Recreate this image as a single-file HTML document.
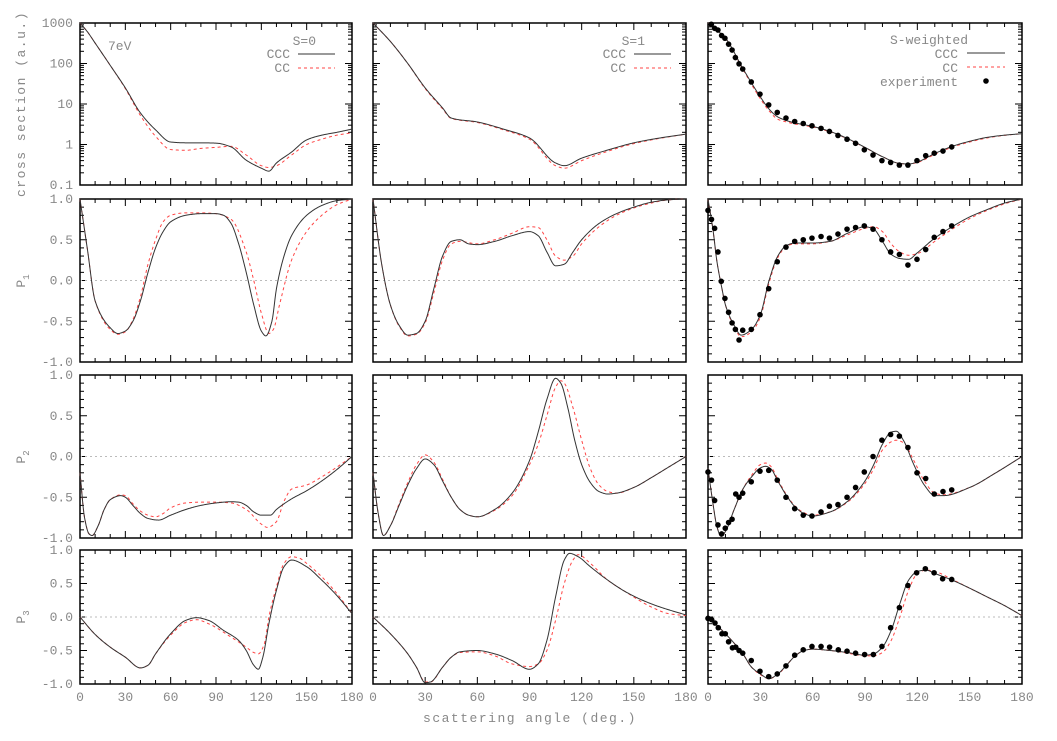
<!DOCTYPE html>
<html><head><meta charset="utf-8">
<style>
html,body{margin:0;padding:0;background:#fff;}
svg{display:block;font-family:"Liberation Mono",monospace;}
text{fill:#888;font-size:13px;}
</style></head>
<body>
<svg id="chart" width="1057" height="741" viewBox="0 0 1057 741" xmlns="http://www.w3.org/2000/svg">
<g id="panels"></g>
<text x="25" y="104" text-anchor="middle" transform="rotate(-90 25 104)" style="letter-spacing:1.5px">cross section (a.u.)</text>
<text x="25" y="281" text-anchor="middle" transform="rotate(-90 25 281)">P<tspan font-size="9" dy="4">1</tspan></text>
<text x="25" y="457" text-anchor="middle" transform="rotate(-90 25 457)">P<tspan font-size="9" dy="4">2</tspan></text>
<text x="25" y="617" text-anchor="middle" transform="rotate(-90 25 617)">P<tspan font-size="9" dy="4">3</tspan></text>
<text x="530" y="722" text-anchor="middle" style="letter-spacing:1.5px">scattering angle (deg.)</text>
<text x="108" y="50">7eV</text>
</svg>
<script>
// ---- data (angle arrays + values) ----
const xTicks=[0,30,60,90,120,150,180];
const logTickLabels=["1000","100","10","1","0.1"];
const pTickLabels=["1.0","0.5","0.0","-0.5","-1.0"];
const pTickValues=[1,0.5,0,-0.5,-1];

const csS0CccA=[0,5,10,20,30,40,50,60,70,80,90,100,110,120,125,130,140,150,160,170,180];
const csS0CccV=[1000,600,320,90,25,6,2.3,1.15,1.1,1.1,1.08,0.87,0.41,0.26,0.22,0.35,0.65,1.3,1.7,2.0,2.4];
const csS0CcA=[0,5,10,20,30,40,50,60,70,80,90,100,110,120,125,130,140,150,160,170,180];
const csS0CcV=[1000,600,320,90,24,5.2,1.6,0.75,0.72,0.8,0.85,0.9,0.55,0.3,0.27,0.3,0.55,1.0,1.35,1.7,1.95];
const csS1CccA=[0,10,20,30,40,45,60,75,90,105,110,120,135,150,165,180];
const csS1CccV=[1000,350,100,25,8,4.5,3.6,2.4,1.45,0.35,0.3,0.46,0.73,1.1,1.45,1.8];
const csS1CcA=[0,10,20,30,40,45,60,75,90,105,110,120,135,150,165,180];
const csS1CcV=[1000,350,100,24,7.6,4.4,3.5,2.3,1.35,0.3,0.26,0.4,0.68,1.05,1.42,1.8];
const csSwCccA=[0,10,20,30,35,40,45,50,60,70,80,90,100,110,115,120,130,140,150,160,170,180];
const csSwCccV=[1000,420,75,15,7.5,4.8,3.9,3.4,2.8,2.1,1.4,0.85,0.5,0.34,0.33,0.37,0.6,0.9,1.2,1.5,1.7,1.85];
const csSwCcA=[0,10,20,30,35,40,45,50,60,70,80,90,100,110,115,120,130,140,150,160,170,180];
const csSwCcV=[1000,420,72,13.5,6.8,4.2,3.6,3.2,2.7,2.05,1.38,0.84,0.5,0.34,0.33,0.36,0.57,0.86,1.15,1.45,1.68,1.85];
const csExpA=[1.9,3.8,5.7,7.8,9.7,11.8,13.8,15.7,17.8,19.9,24.8,29.8,34.8,39.7,44.7,49.7,54.6,59.6,64.8,69.6,74.5,79.7,84.6,89.6,94.6,99.7,104.7,109.7,114.6,119.8,124.8,129.7,134.7,139.7];
const csExpV=[930,740,670,490,420,300,215,140,98,73,35,17.5,9.5,6.2,4.5,3.7,3.3,2.9,2.5,2.1,1.67,1.35,1.07,0.74,0.55,0.40,0.36,0.31,0.31,0.40,0.53,0.61,0.69,0.87];

const p1S0CccA=[0,5,10,20,25,30,35,40,45,50,55,60,70,80,90,95,100,105,110,115,120,123,127,130,135,140,150,160,170,180];
const p1S0CccV=[1.0,0.37,-0.25,-0.58,-0.65,-0.62,-0.5,-0.25,0.1,0.4,0.6,0.72,0.8,0.82,0.82,0.8,0.7,0.45,0.1,-0.3,-0.62,-0.68,-0.5,-0.1,0.3,0.55,0.8,0.92,0.98,1.0];
const p1S0CcA=[0,5,10,20,25,30,35,40,45,50,55,60,70,80,90,100,110,115,120,125,128,132,140,150,160,170,180];
const p1S0CcV=[1.0,0.37,-0.25,-0.6,-0.66,-0.63,-0.48,-0.2,0.2,0.5,0.72,0.8,0.83,0.83,0.82,0.75,0.35,0.0,-0.4,-0.65,-0.6,-0.3,0.25,0.6,0.8,0.93,1.0];
const p1S1CccA=[0,5,10,15,20,25,30,35,40,45,50,55,60,70,80,90,95,100,105,110,115,120,130,140,150,160,170,180];
const p1S1CccV=[1.0,0.2,-0.3,-0.55,-0.67,-0.65,-0.5,-0.1,0.3,0.48,0.5,0.45,0.44,0.48,0.55,0.6,0.55,0.35,0.18,0.2,0.35,0.5,0.7,0.82,0.9,0.96,0.99,1.0];
const p1S1CcA=[0,5,10,15,20,25,30,35,40,45,50,60,70,80,90,95,100,105,110,115,120,130,140,150,160,170,180];
const p1S1CcV=[1.0,0.2,-0.3,-0.56,-0.68,-0.66,-0.52,-0.15,0.25,0.45,0.48,0.45,0.5,0.58,0.66,0.65,0.5,0.3,0.25,0.3,0.45,0.66,0.8,0.89,0.95,0.99,1.0];
const p1SwCccA=[0,3,5,8,10,15,19,25,30,35,40,45,50,60,70,80,90,95,100,105,110,115,120,130,140,150,160,170,180];
const p1SwCccV=[1.0,0.6,0.25,-0.1,-0.3,-0.55,-0.67,-0.6,-0.42,0.0,0.3,0.43,0.46,0.46,0.48,0.58,0.66,0.63,0.48,0.32,0.27,0.26,0.34,0.52,0.66,0.78,0.87,0.95,1.0];
const p1SwCcA=[0,3,5,8,10,15,19,25,30,35,40,45,50,60,70,80,90,95,100,105,110,115,120,130,140,150,160,170,180];
const p1SwCcV=[1.0,0.6,0.25,-0.1,-0.3,-0.57,-0.69,-0.63,-0.45,-0.03,0.28,0.42,0.45,0.45,0.48,0.56,0.64,0.66,0.6,0.45,0.35,0.31,0.33,0.48,0.63,0.76,0.86,0.94,1.0];
const p1ExpA=[0,2,3.8,5.7,7.6,9.7,11.8,13.8,15.7,17.8,19.9,24.8,29.8,34.8,39.7,44.7,49.7,54.6,59.6,64.8,69.6,74.5,79.7,84.6,89.6,94.6,99.7,104.7,109.7,114.6,119.8,124.8,129.7,134.7,139.7];
const p1ExpV=[0.86,0.75,0.64,0.35,-0.01,-0.22,-0.39,-0.52,-0.6,-0.73,-0.61,-0.6,-0.42,-0.1,0.23,0.41,0.48,0.5,0.52,0.54,0.52,0.57,0.63,0.65,0.67,0.63,0.5,0.35,0.32,0.19,0.26,0.38,0.53,0.6,0.67];

const p2S0CccA=[0,3,6,8,12,16,20,27,30,35,40,45,52,60,70,80,90,100,105,110,115,120,126,130,140,150,160,170,180];
const p2S0CccV=[-0.2,-0.75,-0.95,-0.97,-0.85,-0.65,-0.53,-0.48,-0.5,-0.6,-0.7,-0.76,-0.78,-0.72,-0.65,-0.6,-0.57,-0.555,-0.56,-0.6,-0.68,-0.72,-0.72,-0.65,-0.52,-0.42,-0.3,-0.16,0.0];
const p2S0CcA=[0,3,6,8,12,16,20,27,30,35,40,45,50,55,60,70,80,90,100,110,120,124,130,135,140,150,160,170,180];
const p2S0CcV=[-0.2,-0.75,-0.95,-0.97,-0.85,-0.65,-0.53,-0.47,-0.48,-0.58,-0.67,-0.72,-0.74,-0.7,-0.63,-0.57,-0.56,-0.56,-0.57,-0.65,-0.83,-0.87,-0.8,-0.55,-0.4,-0.35,-0.25,-0.13,0.0];
const p2S1CccA=[0,3,6,10,15,20,25,30,35,40,45,50,55,60,70,80,90,95,100,105,108,112,116,120,125,130,135,140,150,160,170,180];
const p2S1CccV=[-0.2,-0.7,-0.97,-0.85,-0.6,-0.35,-0.15,-0.03,-0.1,-0.3,-0.5,-0.65,-0.72,-0.74,-0.65,-0.45,-0.05,0.3,0.7,0.96,0.9,0.6,0.2,-0.1,-0.32,-0.43,-0.46,-0.45,-0.38,-0.26,-0.13,0.0];
const p2S1CcA=[0,3,6,10,15,20,25,30,35,40,45,50,55,60,70,80,90,95,100,105,108,110,115,120,125,130,135,140,150,160,170,180];
const p2S1CcV=[-0.2,-0.7,-0.97,-0.85,-0.58,-0.32,-0.1,0.02,-0.07,-0.28,-0.5,-0.65,-0.72,-0.74,-0.66,-0.48,-0.1,0.15,0.5,0.85,0.93,0.9,0.6,0.2,-0.15,-0.35,-0.43,-0.45,-0.38,-0.26,-0.13,0.0];
const p2SwCccA=[0,3,5,7.5,10,15,20,25,30,33,36,40,45,50,55,60,70,80,90,95,100,105,108,112,118,124,130,135,150,165,180];
const p2SwCccV=[-0.15,-0.6,-0.85,-0.98,-0.92,-0.65,-0.4,-0.25,-0.14,-0.12,-0.15,-0.3,-0.48,-0.62,-0.7,-0.73,-0.68,-0.55,-0.3,-0.1,0.15,0.3,0.31,0.2,-0.1,-0.35,-0.48,-0.48,-0.38,-0.2,0.0];
const p2SwCcA=[0,3,5,7.5,10,15,20,25,30,33,36,40,45,50,55,60,70,80,90,95,100,105,108,112,118,124,130,135,150,165,180];
const p2SwCcV=[-0.15,-0.6,-0.85,-0.98,-0.92,-0.65,-0.4,-0.23,-0.1,-0.08,-0.12,-0.28,-0.47,-0.61,-0.69,-0.72,-0.68,-0.56,-0.33,-0.15,0.08,0.18,0.2,0.17,-0.05,-0.3,-0.45,-0.47,-0.38,-0.2,0.0];
const p2ExpA=[0,2,3.8,5.7,7.8,9.9,11.8,13.8,15.9,17.8,19.9,24.8,29.8,34.8,39.7,44.7,49.7,54.6,59.6,64.8,69.6,74.5,79.7,84.6,89.6,94.6,99.7,104.7,109.7,114.6,119.8,124.8,129.7,134.7,139.7];
const p2ExpV=[-0.19,-0.29,-0.54,-0.84,-0.95,-0.88,-0.81,-0.77,-0.46,-0.5,-0.45,-0.31,-0.18,-0.17,-0.29,-0.5,-0.64,-0.72,-0.73,-0.68,-0.61,-0.59,-0.5,-0.38,-0.19,0.0,0.2,0.27,0.25,0.11,-0.2,-0.27,-0.46,-0.43,-0.41];

const p3S0CccA=[0,10,20,30,40,45,50,60,70,77,85,95,105,110,115,118,121,125,130,135,140,150,160,170,180];
const p3S0CccV=[0,-0.26,-0.45,-0.6,-0.76,-0.72,-0.55,-0.25,-0.05,-0.01,-0.05,-0.2,-0.35,-0.5,-0.72,-0.78,-0.6,-0.1,0.4,0.75,0.85,0.75,0.55,0.32,0.05];
const p3S0CcA=[0,10,20,30,40,45,50,60,70,77,85,100,110,115,118,122,125,130,135,140,145,150,160,170,180];
const p3S0CcV=[0,-0.26,-0.45,-0.6,-0.76,-0.72,-0.55,-0.27,-0.08,-0.04,-0.1,-0.3,-0.45,-0.53,-0.55,-0.4,0.0,0.45,0.8,0.9,0.88,0.8,0.6,0.35,0.05];
const p3S1CccA=[0,10,20,25,30,33,40,45,50,60,70,80,90,95,100,105,110,113,118,125,135,145,155,165,180];
const p3S1CccV=[0,-0.25,-0.55,-0.75,-0.98,-0.97,-0.75,-0.6,-0.52,-0.5,-0.55,-0.65,-0.78,-0.7,-0.35,0.3,0.85,0.95,0.9,0.75,0.55,0.38,0.25,0.15,0.03];
const p3S1CcA=[0,10,20,25,30,33,40,45,50,60,70,80,90,95,100,105,110,115,118,125,135,145,160,170,180];
const p3S1CcV=[0,-0.25,-0.55,-0.75,-0.97,-0.97,-0.75,-0.6,-0.53,-0.52,-0.58,-0.7,-0.74,-0.7,-0.5,-0.05,0.5,0.85,0.93,0.8,0.55,0.38,0.15,0.05,0.02];
const p3SwCccA=[0,10,20,25,30,35,40,45,50,55,60,70,80,90,95,100,105,110,115,120,125,130,140,150,160,170,180];
const p3SwCccV=[0,-0.25,-0.55,-0.75,-0.85,-0.92,-0.85,-0.72,-0.58,-0.5,-0.48,-0.5,-0.53,-0.57,-0.55,-0.45,-0.2,0.2,0.55,0.68,0.7,0.65,0.55,0.43,0.3,0.17,0.02];
const p3SwCcA=[0,10,20,25,30,35,40,45,50,55,60,70,80,90,95,100,105,110,115,120,125,130,140,150,160,170,180];
const p3SwCcV=[0,-0.25,-0.55,-0.75,-0.86,-0.92,-0.86,-0.72,-0.58,-0.5,-0.48,-0.5,-0.54,-0.58,-0.58,-0.53,-0.35,0.0,0.4,0.65,0.7,0.68,0.56,0.43,0.3,0.17,0.02];
const p3ExpA=[0,2.1,4,5.9,8,9.9,11.8,14,15.9,17.8,19.9,24.8,29.8,34.8,39.7,44.7,49.7,54.6,59.6,64.8,69.7,74.7,79.7,84.6,89.8,94.8,99.7,104.7,109.7,114.6,119.6,124.6,129.6,134.5,139.7];
const p3ExpV=[-0.02,-0.04,-0.09,-0.16,-0.25,-0.25,-0.37,-0.46,-0.45,-0.5,-0.54,-0.65,-0.81,-0.89,-0.85,-0.73,-0.57,-0.49,-0.44,-0.44,-0.45,-0.49,-0.51,-0.54,-0.56,-0.56,-0.44,-0.16,0.14,0.47,0.66,0.72,0.66,0.57,0.56];

// ---- layout ----
const cols=[[80,352],[373,686],[708,1022]];
const rows=[[23,185],[199,362],[375,538],[550,684]];
const NS="http://www.w3.org/2000/svg";
const G=document.getElementById('panels');
function mk(tag,attrs,parent){const e=document.createElementNS(NS,tag);for(const k in attrs)e.setAttribute(k,attrs[k]);(parent||G).appendChild(e);return e;}

function xScale(c){return a=>cols[c][0]+a/180*(cols[c][1]-cols[c][0]);}
function yScale(r){
  const [t,b]=rows[r];
  if(r===0) return v=>b-(Math.log10(v)+1)/4*(b-t);
  return v=>t+(1-v)/2*(b-t);
}
// monotone cubic (PCHIP) interpolation
function pchip(xs,ys){
  const n=xs.length,h=[],d=[],m=new Array(n);
  for(let i=0;i<n-1;i++){h[i]=xs[i+1]-xs[i];d[i]=(ys[i+1]-ys[i])/h[i];}
  m[0]=d[0];m[n-1]=d[n-2];
  for(let i=1;i<n-1;i++){
    if(d[i-1]*d[i]<=0)m[i]=0;
    else{const w1=2*h[i]+h[i-1],w2=h[i]+2*h[i-1];m[i]=(w1+w2)/(w1/d[i-1]+w2/d[i]);}
  }
  return x=>{
    let i=0;while(i<n-2&&x>xs[i+1])i++;
    const t=(x-xs[i])/h[i],t2=t*t,t3=t2*t;
    return (2*t3-3*t2+1)*ys[i]+(t3-2*t2+t)*h[i]*m[i]+(-2*t3+3*t2)*ys[i+1]+(t3-t2)*h[i]*m[i+1];
  };
}
function series(r,c,A,V,cc,name){
  const X=xScale(c),Y=yScale(r);
  const tv=r===0?V.map(v=>Math.log10(v)):V;
  const f=pchip(A,tv);
  let d="";
  for(let a=A[0];a<=A[A.length-1]+1e-9;a+=0.5){
    let v=f(a);if(r===0)v=Math.pow(10,v);
    d+=(d?"L":"M")+X(a).toFixed(2)+","+Y(v).toFixed(2);
  }
  const p=mk('path',{d:d,fill:'none',stroke:cc?'#f44':'#333','stroke-width':1,'stroke-dasharray':cc?'3,3':'none','stroke-linejoin':'round'});
  
  
}
function points(r,c,A,V,name){
  const X=xScale(c),Y=yScale(r);
  A.forEach((a,i)=>{
    const e=mk('circle',{cx:X(a),cy:Y(V[i]),r:2.8,fill:'#000'});
    
    
  });
}

for(let r=0;r<4;r++)for(let c=0;c<3;c++){
  const [x0,x1]=cols[c],[y0,y1]=rows[r];
  const X=xScale(c),Y=yScale(r);
  const g=mk('g',{});
  
  
  for(let a=0;a<=180;a+=10){
    const L=(a%30===0)?7:4;
    mk('line',{x1:X(a),x2:X(a),y1:y1,y2:y1-L,stroke:'#000','stroke-width':1},g);
    mk('line',{x1:X(a),x2:X(a),y1:y0,y2:y0+L,stroke:'#000','stroke-width':1},g);
  }
  if(r===0){
    for(let d=-1;d<3;d++)for(let m=1;m<=9;m++){
      const v=m*Math.pow(10,d),L=m===1?7:4;
      mk('line',{x1:x0,x2:x0+L,y1:Y(v),y2:Y(v),stroke:'#000','stroke-width':1},g);
      mk('line',{x1:x1,x2:x1-L,y1:Y(v),y2:Y(v),stroke:'#000','stroke-width':1},g);
    }
  }else{
    for(let k=-10;k<=10;k++){
      const v=k/10,L=(k%5===0)?7:4;
      mk('line',{x1:x0,x2:x0+L,y1:Y(v),y2:Y(v),stroke:'#000','stroke-width':1},g);
      mk('line',{x1:x1,x2:x1-L,y1:Y(v),y2:Y(v),stroke:'#000','stroke-width':1},g);
    }
    const z=mk('line',{x1:x0,x2:x1,y1:Y(0),y2:Y(0),stroke:'#bbb','stroke-width':1,'stroke-dasharray':'2,3'},g);
    
    
  }
  const fr=mk('rect',{x:x0,y:y0,width:x1-x0,height:y1-y0,fill:'none',stroke:'#000','stroke-width':1.5},g);
  
  
  if(c===0){
    (r===0?logTickLabels:pTickLabels).forEach((t,i)=>{
      const yy=r===0?y0+i*(y1-y0)/4:Y(pTickValues[i]);
      const e=mk('text',{x:73,y:yy+4,'text-anchor':'end'},g);e.textContent=t;
      
      
    });
  }
  if(r===3){
    xTicks.forEach(a=>{
      const e=mk('text',{x:X(a),y:y1+17,'text-anchor':'middle'},g);e.textContent=String(a);
      
      
    });
  }
}

series(0,0,csS0CcA,csS0CcV,true,'cc-cs-s0');series(0,0,csS0CccA,csS0CccV,false,'ccc-cs-s0');
series(0,1,csS1CcA,csS1CcV,true,'cc-cs-s1');series(0,1,csS1CccA,csS1CccV,false,'ccc-cs-s1');
series(0,2,csSwCcA,csSwCcV,true,'cc-cs-sw');series(0,2,csSwCccA,csSwCccV,false,'ccc-cs-sw');
points(0,2,csExpA,csExpV,'exp-cs-point');
series(1,0,p1S0CcA,p1S0CcV,true,'cc-p1-s0');series(1,0,p1S0CccA,p1S0CccV,false,'ccc-p1-s0');
series(1,1,p1S1CcA,p1S1CcV,true,'cc-p1-s1');series(1,1,p1S1CccA,p1S1CccV,false,'ccc-p1-s1');
series(1,2,p1SwCcA,p1SwCcV,true,'cc-p1-sw');series(1,2,p1SwCccA,p1SwCccV,false,'ccc-p1-sw');
points(1,2,p1ExpA,p1ExpV,'exp-p1-point');
series(2,0,p2S0CcA,p2S0CcV,true,'cc-p2-s0');series(2,0,p2S0CccA,p2S0CccV,false,'ccc-p2-s0');
series(2,1,p2S1CcA,p2S1CcV,true,'cc-p2-s1');series(2,1,p2S1CccA,p2S1CccV,false,'ccc-p2-s1');
series(2,2,p2SwCcA,p2SwCcV,true,'cc-p2-sw');series(2,2,p2SwCccA,p2SwCccV,false,'ccc-p2-sw');
points(2,2,p2ExpA,p2ExpV,'exp-p2-point');
series(3,0,p3S0CcA,p3S0CcV,true,'cc-p3-s0');series(3,0,p3S0CccA,p3S0CccV,false,'ccc-p3-s0');
series(3,1,p3S1CcA,p3S1CcV,true,'cc-p3-s1');series(3,1,p3S1CccA,p3S1CccV,false,'ccc-p3-s1');
series(3,2,p3SwCcA,p3SwCcV,true,'cc-p3-sw');series(3,2,p3SwCccA,p3SwCccV,false,'ccc-p3-sw');
points(3,2,p3ExpA,p3ExpV,'exp-p3-point');

function legText(x,y,t,name){const e=mk('text',{x:x,y:y,'text-anchor':'end'});e.textContent=t;
  
  }
function legLine(x1,x2,y,cc,name){const e=mk('line',{x1:x1,x2:x2,y1:y,y2:y,stroke:cc?'#f44':'#333','stroke-width':1,'stroke-dasharray':cc?'3,3':'none'});
  
  }
legText(316,45,'S=0','legend-title-s0');
legText(290,58,'CCC','legend-ccc-label');legLine(298,335,54,false,'legend-ccc-line');
legText(290,72,'CC','legend-cc-label');legLine(298,335,68,true,'legend-cc-line');
legText(645,45,'S=1','legend-title-s1');
legText(626,58,'CCC','legend-ccc-label');legLine(634,671,54,false,'legend-ccc-line');
legText(626,72,'CC','legend-cc-label');legLine(634,671,68,true,'legend-cc-line');
legText(968,44,'S-weighted','legend-title-sw');
legText(958,58,'CCC','legend-ccc-label');legLine(967,1005,53,false,'legend-ccc-line');
legText(958,72,'CC','legend-cc-label');legLine(967,1005,67,true,'legend-cc-line');
legText(958,86,'experiment','legend-experiment-label');
const ld=mk('circle',{cx:986,cy:81,r:2.8,fill:'#000'});


</script>
</body></html>
